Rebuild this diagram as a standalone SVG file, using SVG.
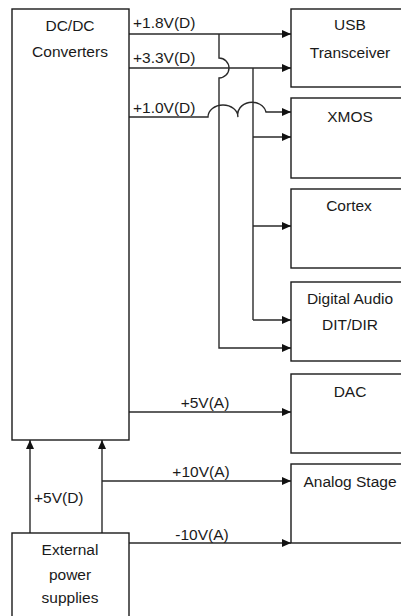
<svg xmlns="http://www.w3.org/2000/svg" width="401" height="616" viewBox="0 0 401 616">
<defs>
<marker id="ah" markerWidth="9" markerHeight="8" refX="9" refY="4" orient="auto" markerUnits="userSpaceOnUse">
<path d="M0,0 L9,4 L0,8 Z" fill="#111"/>
</marker>
<style>
.box{fill:#fff;stroke:#1a1a1a;stroke-width:1.4}
.ln{fill:none;stroke:#2a2a2a;stroke-width:1.4}
.ar{marker-end:url(#ah)}
text{font-family:"Liberation Sans",Arial,sans-serif;font-size:15.5px;fill:#1a1a1a}
.c{text-anchor:middle}
</style>
</defs>
<rect width="401" height="616" fill="#fff"/>
<g id="connectors">
<path class="ln ar" d="M129,34 H291"/>
<path class="ln ar" d="M129,68 H291"/>
<path class="ln ar" d="M129,117 H208 A15,12 0 0 1 238,117 A14,12 0 0 1 266,112 H291"/>
<path class="ln ar" d="M219,34 V58 A10,10 0 0 1 219,78 V348 H291"/>
<path class="ln" d="M253,68 V320"/>
<path class="ln ar" d="M253,137 H291"/>
<path class="ln ar" d="M253,226 H291"/>
<path class="ln ar" d="M253,320 H291"/>
<path class="ln ar" d="M129,412 H291"/>
<path class="ln ar" d="M102,481 H291"/>
<path class="ln ar" d="M129,543 H291"/>
<path class="ln ar" d="M30,533 V440"/>
<path class="ln ar" d="M102,533 V440"/>
</g>
<g id="labels">
<text x="133" y="28">+1.8V(D)</text>
<text x="133" y="63">+3.3V(D)</text>
<text x="133" y="113">+1.0V(D)</text>
<text class="c" x="205" y="408">+5V(A)</text>
<text class="c" x="201" y="477">+10V(A)</text>
<text class="c" x="202" y="540">-10V(A)</text>
<text x="34" y="503">+5V(D)</text>
</g>
<g id="dcdc">
<rect class="box" x="12" y="9" width="117" height="431"/>
<text class="c" x="70" y="31">DC/DC</text>
<text class="c" x="70" y="57">Converters</text>
</g>
<g id="usb">
<rect class="box" x="291" y="9" width="120" height="78"/>
<text class="c" x="350" y="30">USB</text>
<text class="c" x="350" y="58">Transceiver</text>
</g>
<g id="xmos">
<rect class="box" x="291" y="98" width="120" height="80"/>
<text class="c" x="350" y="122">XMOS</text>
</g>
<g id="cortex">
<rect class="box" x="291" y="189" width="120" height="79"/>
<text class="c" x="349" y="211">Cortex</text>
</g>
<g id="digital-audio">
<rect class="box" x="291" y="282" width="120" height="79"/>
<text class="c" x="350" y="304">Digital Audio</text>
<text class="c" x="350" y="330">DIT/DIR</text>
</g>
<g id="dac">
<rect class="box" x="291" y="374" width="120" height="79"/>
<text class="c" x="350" y="397">DAC</text>
</g>
<g id="analog">
<rect class="box" x="291" y="464" width="120" height="79"/>
<text class="c" x="350" y="487">Analog Stage</text>
</g>
<g id="external">
<rect class="box" x="12" y="533" width="117" height="100"/>
<text class="c" x="70" y="555">External</text>
<text class="c" x="70" y="580">power</text>
<text class="c" x="70" y="603">supplies</text>
</g>
</svg>
